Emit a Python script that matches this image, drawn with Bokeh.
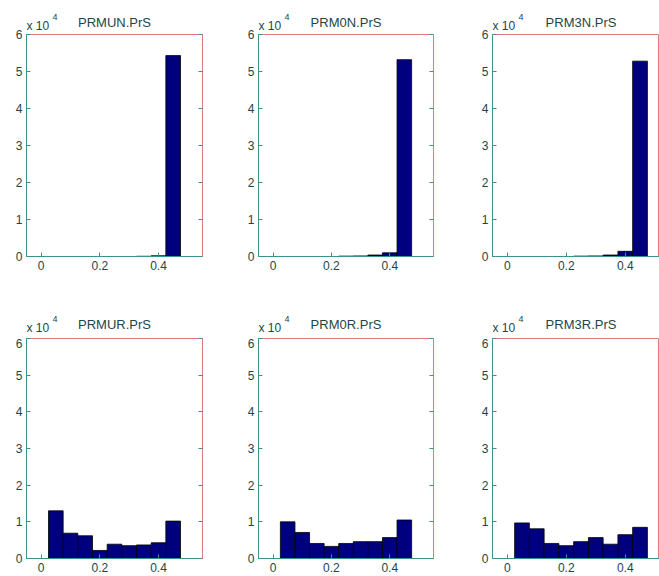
from bokeh.plotting import figure
from bokeh.layouts import gridplot
from bokeh.models import Range1d, FixedTicker, LinearAxis, ColumnDataSource
from bokeh.core.properties import value
from bokeh.embed import file_html
from bokeh.resources import INLINE

# ---- data (counts) ----
titles = ["PRMUN.PrS", "PRM0N.PrS", "PRM3N.PrS", "PRMUR.PrS", "PRM0R.PrS", "PRM3R.PrS"]

prmun_centers = [0.35, 0.40, 0.45]
prmun_counts = [60, 200, 54300]
prm0n_centers = [0.25, 0.30, 0.35, 0.40, 0.45]
prm0n_counts = [100, 150, 400, 1000, 53200]
prm3n_centers = [0.25, 0.30, 0.35, 0.40, 0.45]
prm3n_counts = [100, 150, 400, 1400, 52800]

r_centers = [0.0, 0.05, 0.10, 0.15, 0.20, 0.25, 0.30, 0.35, 0.40, 0.45]
prmur_counts = [0, 13000, 6900, 6200, 2200, 3900, 3500, 3700, 4300, 10200]
prm0r_counts = [0, 10000, 7100, 4100, 3300, 4100, 4600, 4600, 5700, 10500]
prm3r_counts = [0, 9700, 8100, 4100, 3500, 4600, 5700, 3900, 6500, 8500]

bin_width = 0.05
x_ticks = [0, 0.2, 0.4]
y_ticks = [0, 10000, 20000, 30000, 40000, 50000, 60000]
y_tick_labels = ["0", "1", "2", "3", "4", "5", "6"]
multiplier = "x 10"
exponent = "4"

series = [
    (prmun_centers, prmun_counts),
    (prm0n_centers, prm0n_counts),
    (prm3n_centers, prm3n_counts),
    (r_centers, prmur_counts),
    (r_centers, prm0r_counts),
    (r_centers, prm3r_counts),
]

# ---- styling / layout ----
TEAL = "#3d918d"
RED = "#e27a78"
TXT = "#1d4646"
FONT = "Liberation Sans"
BAR = "#00007f"

cols = [
    dict(w=229, left=26, right=27, xr=(-0.05, 0.55)),
    dict(w=234, left=29, right=30, xr=(-0.05, 0.55)),
    dict(w=196, left=29, right=0, xr=(-0.05, 0.516)),
]
# over: how far the main panel slides up under its header strip
rows = [
    dict(hh=34, h=256, bottom=34, toff=12, xoff=9, over=7),
    dict(hh=48, h=238, bottom=18, toff=14, xoff=11, over=0),
]


def style(ax, labels=True, line_color=TEAL):
    ax.axis_line_color = line_color
    ax.major_tick_line_color = TEAL
    ax.minor_tick_line_color = None
    ax.major_tick_in = 4
    ax.major_tick_out = 0
    if labels:
        ax.major_label_text_font = FONT
        ax.major_label_text_font_size = "12px"
        ax.major_label_text_color = TXT
        ax.major_label_standoff = 4
    else:
        ax.major_label_text_font_size = "0px"
        ax.major_label_text_color = None
        ax.major_label_standoff = 0


grid_rows = []
for ri, rr in enumerate(rows):
    heads = []
    mains = []
    ov = rr["over"]
    for ci, cc in enumerate(cols):
        k = ri * 3 + ci
        centers, counts = series[k]

        # header strip carrying the panel title and the axis multiplier
        h = figure(width=cc["w"], height=rr["hh"], output_backend="svg", toolbar_location=None,
                   x_range=Range1d(*cc["xr"]), y_range=Range1d(0, rr["hh"]),
                   min_border_left=cc["left"], min_border_right=cc["right"],
                   min_border_top=0, min_border_bottom=0,
                   x_axis_location=None, y_axis_location=None)
        h.grid.visible = False
        h.outline_line_color = None
        h.text(x=[0.25], y=[rr["toff"]], text=[titles[k]], text_align="center",
               text_baseline="middle", text_font=value(FONT), text_font_size="13px",
               text_color=TXT)
        h.text(x=[cc["xr"][0]], y=[rr["xoff"]], text=[multiplier], text_align="left",
               text_baseline="middle", text_font=value(FONT), text_font_size="12px",
               text_color=TXT)
        h.text(x=[cc["xr"][0]], y=[rr["xoff"] + 9], x_offset=26, text=[exponent],
               text_align="left", text_baseline="middle", text_font=value(FONT),
               text_font_size="9px", text_color=TXT)
        heads.append(h)

        kw = {}
        if ov:
            kw["margin"] = (-ov, 0, 0, 0)
        p = figure(width=cc["w"], height=rr["h"] + ov, output_backend="svg",
                   toolbar_location=None,
                   x_range=h.x_range, y_range=Range1d(0, 60000),
                   min_border_left=cc["left"], min_border_right=cc["right"],
                   min_border_top=ov, min_border_bottom=rr["bottom"] - ov,
                   x_axis_location=None, y_axis_location=None, **kw)
        p.grid.visible = False
        p.border_fill_alpha = 0
        p.outline_line_color = RED
        p.outline_line_width = 1

        src = ColumnDataSource(dict(x=centers, top=counts))
        p.vbar(x="x", top="top", width=bin_width, bottom=0, source=src,
               fill_color=BAR, line_color="#000000", line_width=0.8)

        xb = LinearAxis(ticker=FixedTicker(ticks=x_ticks))
        style(xb)
        p.add_layout(xb, "below")
        yl = LinearAxis(ticker=FixedTicker(ticks=y_ticks),
                        major_label_overrides={t: s for t, s in zip(y_ticks, y_tick_labels)})
        style(yl)
        p.add_layout(yl, "left")
        if cc["right"] > 0:
            yr = LinearAxis(ticker=FixedTicker(ticks=y_ticks))
            style(yr, labels=False, line_color=RED)
            p.add_layout(yr, "right")
        mains.append(p)
    grid_rows.append(heads)
    grid_rows.append(mains)

grid = gridplot(grid_rows, toolbar_location=None)
open("out.html", "w").write(file_html(grid, INLINE))
